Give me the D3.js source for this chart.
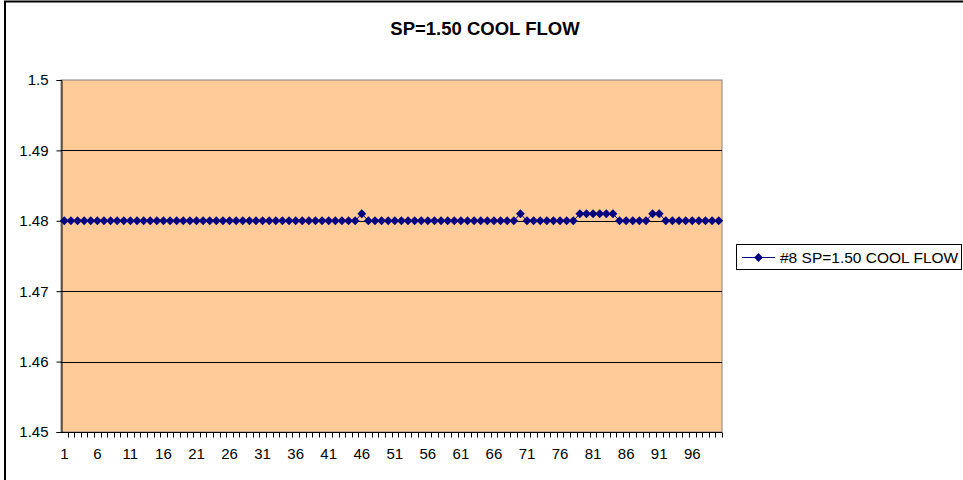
<!DOCTYPE html>
<html>
<head>
<meta charset="utf-8">
<script src="https://cdn.jsdelivr.net/npm/d3@7"></script>
<style>
  body { margin: 0; background: #fff; }
  text { font-family: Arial, "Liberation Sans", sans-serif; }
</style>
</head>
<body>
<div id="chart"></div>
<script>
// chart data
var title = "SP=1.50 COOL FLOW";
var seriesName = "#8 SP=1.50 COOL FLOW";
var categories = d3.range(1, 101);
var values = [
  1.48, 1.48, 1.48, 1.48, 1.48, 1.48, 1.48, 1.48, 1.48, 1.48,
  1.48, 1.48, 1.48, 1.48, 1.48, 1.48, 1.48, 1.48, 1.48, 1.48,
  1.48, 1.48, 1.48, 1.48, 1.48, 1.48, 1.48, 1.48, 1.48, 1.48,
  1.48, 1.48, 1.48, 1.48, 1.48, 1.48, 1.48, 1.48, 1.48, 1.48,
  1.48, 1.48, 1.48, 1.48, 1.48, 1.481, 1.48, 1.48, 1.48, 1.48,
  1.48, 1.48, 1.48, 1.48, 1.48, 1.48, 1.48, 1.48, 1.48, 1.48,
  1.48, 1.48, 1.48, 1.48, 1.48, 1.48, 1.48, 1.48, 1.48, 1.481,
  1.48, 1.48, 1.48, 1.48, 1.48, 1.48, 1.48, 1.48, 1.481, 1.481,
  1.481, 1.481, 1.481, 1.481, 1.48, 1.48, 1.48, 1.48, 1.48, 1.481,
  1.481, 1.48, 1.48, 1.48, 1.48, 1.48, 1.48, 1.48, 1.48, 1.48
];
var yTicks = [1.45, 1.46, 1.47, 1.48, 1.49, 1.5];
var xLabels = categories.filter(function (c) { return (c - 1) % 5 === 0; });

var W = 963, H = 480;
var plot = { left: 61, top: 80, right: 722, bottom: 432 };

var svg = d3.select("#chart")
    .append("svg")
    .attr("width", W)
    .attr("height", H);

// outer chart border
svg.append("rect")
    .attr("x", 5)
    .attr("y", 1.5)
    .attr("width", W + 10)
    .attr("height", H + 10)
    .attr("fill", "#fff")
    .attr("stroke", "#000")
    .attr("stroke-width", 2);

// title
svg.append("text")
    .attr("x", 485)
    .attr("y", 35)
    .attr("text-anchor", "middle")
    .style("font-size", "18.5px")
    .style("font-weight", "bold")
    .text(title);

var x = d3.scaleBand()
    .domain(categories)
    .range([plot.left, plot.right]);

var y = d3.scaleLinear()
    .domain([1.45, 1.5])
    .range([plot.bottom, plot.top]);

// plot background
svg.append("rect")
    .attr("x", plot.left)
    .attr("y", plot.top)
    .attr("width", plot.right - plot.left)
    .attr("height", plot.bottom - plot.top)
    .attr("fill", "#ffcc99")
    .attr("stroke", "#808080")
    .attr("stroke-width", 1);

// gridlines
svg.append("g")
    .selectAll("line")
    .data(yTicks.slice(1, -1))
    .join("line")
    .attr("x1", plot.left)
    .attr("x2", plot.right)
    .attr("y1", function (d) { return Math.round(y(d)) + 0.5; })
    .attr("y2", function (d) { return Math.round(y(d)) + 0.5; })
    .attr("stroke", "#000")
    .attr("stroke-width", 1);

// y axis
var axisY = svg.append("g")
    .attr("transform", "translate(" + (plot.left + 0.5) + ",0)")
    .call(d3.axisLeft(y).tickValues(yTicks).tickFormat(d3.format("")).tickSize(5).tickPadding(8));
axisY.selectAll("path, line").attr("stroke", "#000");
axisY.selectAll("text").style("font-size", "15px").attr("fill", "#000");

// x axis: tick between every category, labels every 5th
var axisX = svg.append("g")
    .attr("transform", "translate(0," + (plot.bottom + 0.5) + ")");
axisX.append("line")
    .attr("x1", plot.left)
    .attr("x2", plot.right)
    .attr("stroke", "#000");
axisX.selectAll("line.tk")
    .data(categories)
    .join("line")
    .attr("class", "tk")
    .attr("x1", function (d) { return Math.round(x(d) + x.bandwidth()) + 0.5; })
    .attr("x2", function (d) { return Math.round(x(d) + x.bandwidth()) + 0.5; })
    .attr("y1", 0)
    .attr("y2", 5)
    .attr("stroke", "#000");
axisX.selectAll("text")
    .data(xLabels)
    .join("text")
    .attr("x", function (d) { return x(d) + x.bandwidth() / 2; })
    .attr("y", 26)
    .attr("text-anchor", "middle")
    .style("font-size", "15px")
    .text(function (d) { return d; });

// series line
var line = d3.line()
    .x(function (d, i) { return x(categories[i]) + x.bandwidth() / 2; })
    .y(function (d) { return y(d); });

svg.append("path")
    .datum(values)
    .attr("d", line)
    .attr("fill", "none")
    .attr("stroke", "#000080")
    .attr("stroke-width", 1);

var diamond = d3.symbol().type(d3.symbolDiamond2).size(50);

svg.append("g")
    .selectAll("path")
    .data(values)
    .join("path")
    .attr("transform", function (d, i) {
        return "translate(" + (x(categories[i]) + x.bandwidth() / 2) + "," + y(d) + ")";
    })
    .attr("d", diamond)
    .attr("fill", "#000080");

// legend
var legend = svg.append("g");
legend.append("rect")
    .attr("x", 736.5)
    .attr("y", 244.5)
    .attr("width", 225)
    .attr("height", 25)
    .attr("fill", "#fff")
    .attr("stroke", "#000");
legend.append("line")
    .attr("x1", 742)
    .attr("x2", 775)
    .attr("y1", 257.5)
    .attr("y2", 257.5)
    .attr("stroke", "#000080");
legend.append("path")
    .attr("transform", "translate(758.5,257.5)")
    .attr("d", diamond)
    .attr("fill", "#000080");
legend.append("text")
    .attr("x", 780)
    .attr("y", 263)
    .style("font-size", "15.5px")
    .text(seriesName);
</script>
</body>
</html>
